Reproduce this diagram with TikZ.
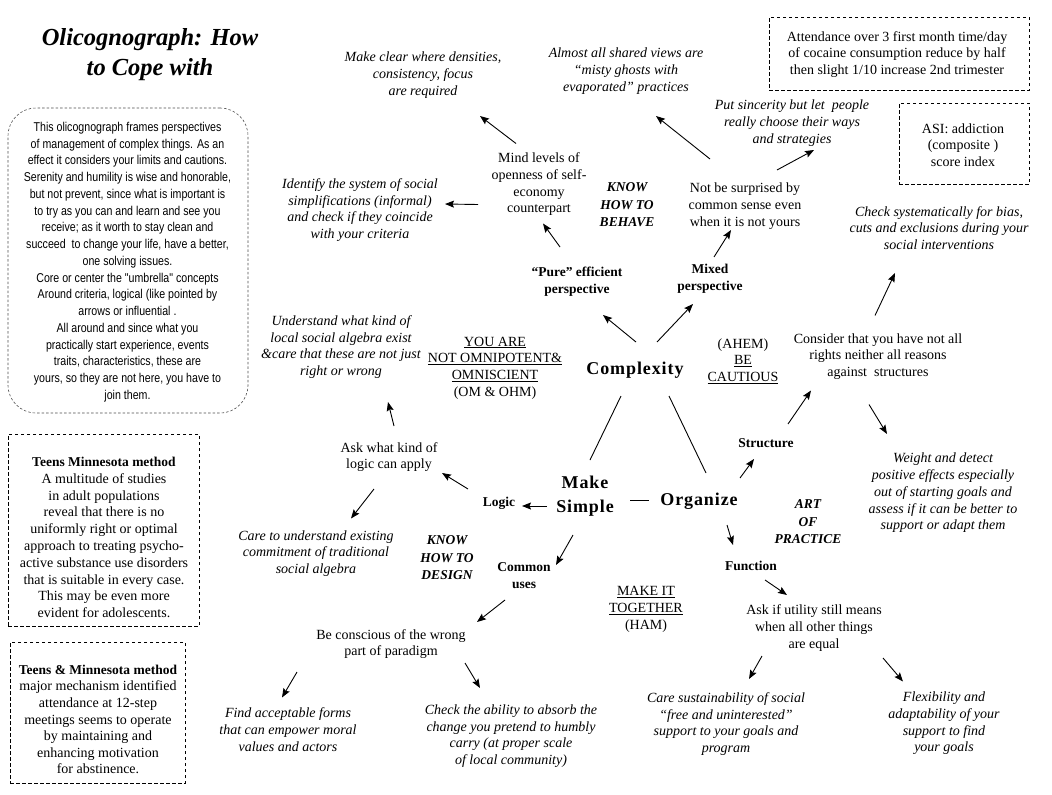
\documentclass[tikz,border=0pt]{standalone}
\usepackage{fontspec}
\setmainfont{Liberation Serif}
\newfontfamily\nsans[FakeStretch=0.83]{Liberation Sans}
\usetikzlibrary{arrows.meta,calc}
\tikzset{
 base/.style={align=center, inner sep=0pt, font=\fontsize{14}{16.7}\selectfont},
 itx/.style={base, font=\fontsize{14}{16.7}\selectfont\itshape},
 bl/.style={base, font=\fontsize{13.5}{17}\selectfont\bfseries},
 bix/.style={base, font=\fontsize{13.5}{17.5}\selectfont\bfseries\itshape},
 big/.style={base, font=\fontsize{18}{24}\selectfont\bfseries\addfontfeature{LetterSpace=5}},
 arr/.style={line width=0.9pt, -{Stealth[length=9pt,width=7pt,inset=1.5pt]}},
 ln/.style={line width=0.9pt},
 dbox/.style={draw, dash pattern=on 3.5pt off 2.5pt, line width=0.8pt, inner sep=0pt},
}
\begin{document}
\begin{tikzpicture}[x=1pt,y=-1pt]
\useasboundingbox (0,0) rectangle (1052,795);

% title
\node[base, font=\fontsize{24.5}{30}\selectfont\bfseries\itshape] (title) at (150,55) {Olicognograph: How\\to Cope with};

% left rounded box
\node[draw=black!70, dash pattern=on 2.5pt off 2pt, line width=0.6pt, rounded corners=28pt,
      minimum width=240pt, minimum height=305pt, inner sep=0pt] (lbox) at (128,260.5) {};
\node[base, font=\nsans\fontsize{12.8}{16.75}\selectfont] (ltext) at (127.5,262) {This olicognograph frames perspectives\\
of management of complex things. As an\\
effect it considers your limits and cautions.\\
Serenity and humility is wise and honorable,\\
but not prevent, since what is important is\\
to try as you can and learn and see you\\
receive; as it worth to stay clean and\\
succeed\ \ to change your life, have a better,\\
one solving issues.\\
Core or center the "umbrella" concepts\\
Around criteria, logical (like pointed by\\
arrows or influential .\\
All around and since what you\\
practically start experience, events\\
traits, characteristics, these are\\
yours, so they are not here, you have to\\
join them.};

% teens boxes
\node[dbox, minimum width=191pt, minimum height=192pt] (tbox1) at (103.5,530) {};
\node[base, font=\fontsize{14}{16.8}\selectfont] (teens1) at (104,537.5) {\textbf{\fontsize{13.5}{16.8}\selectfont Teens Minnesota method}\\
A multitude of studies\\
in adult populations\\
reveal that there is no\\
uniformly right or optimal\\
approach to treating psycho-\\
active substance use disorders\\
that is suitable in every case.\\
This may be even more\\
evident for adolescents.};
\node[dbox, minimum width=175pt, minimum height=141pt] (tbox2) at (97.5,712.5) {};
\node[base, font=\fontsize{14}{16.6}\selectfont] (teens2) at (98,719.5) {\textbf{\fontsize{13.5}{16.6}\selectfont Teens \& Minnesota method}\\
major mechanism identified\\
attendance at 12-step\\
meetings seems to operate\\
by maintaining and\\
enhancing motivation\\
for abstinence.};

% top right boxes
\node[dbox, minimum width=260pt, minimum height=73pt] (abox) at (899,53.5) {};
\node[base] (attend) at (897,54.5) {Attendance over 3 first month time/day\\of cocaine consumption reduce by half\\then slight 1/10 increase 2nd trimester};
\node[dbox, minimum width=130pt, minimum height=81pt] (asibox) at (964,143.5) {};
\node[base] (asi) at (963,145) {ASI: addiction\\(composite )\\score index};

% nodes
\node[itx] (mkclear) at (423,75) {Make clear where densities,\\consistency, focus\\are required};
\node[itx] (almost) at (626,71) {Almost all shared views are\\“misty ghosts with\\evaporated” practices};
\node[itx] (sincer) at (792,123) {Put sincerity but let\ \ people\\really choose their ways\\and strategies};
\node[base] (mind) at (539,184.5) {Mind levels of\\openness of self-\\economy\\counterpart};
\node[itx] (identify) at (360,210) {Identify the system of social\\simplifications (informal)\\and check if they coincide\\with your criteria};
\node[bix] (kbehave) at (627,205) {KNOW\\HOW TO\\BEHAVE};
\node[base] (notsurp) at (745,206) {Not be surprised by\\common sense even\\when it is not yours};
\node[itx] (checksys) at (939,228) {Check systematically for bias,\\cuts and exclusions during your\\social interventions};
\node[bl] (pure) at (577,282) {“Pure” efficient\\perspective};
\node[bl] (mixed) at (710,279) {Mixed\\perspective};
\node[itx] (underst) at (341,347) {Understand what kind of\\local social algebra exist\\\&care that these are not just\\right or wrong};
\node[base] (youare) at (495,368) {\underline{YOU ARE}\\\underline{NOT OMNIPOTENT\&}\\\underline{OMNISCIENT}\\(OM \& OHM)};
\node[big] (cplx) at (635,370) {Complexity};
\node[base] (ahem) at (743,361) {(AHEM)\\\underline{BE}\\\underline{CAUTIOUS}};
\node[base] (consider) at (878,356.5) {Consider that you have not all\\rights neither all reasons\\against\ \ structures};
\node[base] (askwhat) at (389,457) {Ask what kind of\\logic can apply};
\node[bl] (struct) at (766,443) {Structure};
\node[itx] (weight) at (943,493) {Weight and detect\\positive effects especially\\out of starting goals and\\assess if it can be better to\\support or adapt them};
\node[big] (msimple) at (585,496) {Make\\Simple};
\node[big] (organize) at (699,501) {Organize};
\node[bl] (logic) at (499,503) {Logic};
\node[bix] (art) at (808,522) {ART\\OF\\PRACTICE};
\node[itx] (careund) at (316,553.5) {Care to understand existing\\commitment of traditional\\social algebra};
\node[bix] (kdesign) at (447,558) {KNOW\\HOW TO\\DESIGN};
\node[bl] (common) at (524,576) {Common\\uses};
\node[bl] (function) at (751,566) {Function};
\node[base] (together) at (646,609.5) {\underline{MAKE IT}\\\underline{TOGETHER}\\(HAM)};
\node[base] (askutil) at (814,628) {Ask if utility still means\\when all other things\\are equal};
\node[base] (beconsc) at (391,644) {Be conscious of the wrong\\part of paradigm};
\node[itx] (findacc) at (288,729.5) {Find acceptable forms\\that can empower moral\\values and actors};
\node[itx] (checkab) at (511,736) {Check the ability to absorb the\\change you pretend to humbly\\carry (at proper scale\\of local community)};
\node[itx] (caresus) at (726,724) {Care sustainability of social\\“free and uninterested”\\support to your goals and\\program};
\node[itx] (flex) at (944,723.5) {Flexibility and\\adaptability of your\\support to find\\your goals};

% connectors
\draw[arr] ($(mind)+(-23,-41)$) -- ($(mkclear)+(57,41)$);
\draw[arr] ($(mind)+(-61,20)$) -- ($(identify)+(85,-6)$);
\draw[arr] ($(pure)+(-17,-35)$) -- ($(mind)+(4,39)$);
\draw[arr] ($(notsurp)+(-35,-47)$) -- ($(almost)+(30,45)$);
\draw[arr] ($(notsurp)+(32,-36)$) -- ($(sincer)+(22,27)$);
\draw[arr] ($(mixed)+(4,-22)$) -- ($(notsurp)+(-14,24)$);
\draw[arr] ($(cplx)+(1,-28)$) -- ($(pure)+(26,33)$);
\draw[arr] ($(cplx)+(22,-28)$) -- ($(mixed)+(-17,25)$);
\draw[ln] ($(cplx)+(-14,26)$) -- ($(msimple)+(5,-36)$);
\draw[ln] ($(cplx)+(34,26)$) -- ($(organize)+(7,-28)$);
\draw[ln] ($(msimple)+(45,4)$) -- ($(organize)+(-50,-1)$);
\draw[arr] ($(organize)+(41,-23)$) -- ($(struct)+(-12,16)$);
\draw[arr] ($(struct)+(22,-19)$) -- ($(consider)+(-67,34)$);
\draw[arr] ($(consider)+(-9,48)$) -- ($(weight)+(-56,-59)$);
\draw[arr] ($(consider)+(-3,-41)$) -- ($(checksys)+(-44,45)$);
\draw[arr] ($(organize)+(28,24)$) -- ($(function)+(-18,-21)$);
\draw[arr] ($(function)+(14,14)$) -- ($(askutil)+(-27,-33)$);
\draw[arr] ($(askutil)+(-52,28)$) -- ($(caresus)+(23,-45)$);
\draw[arr] ($(askutil)+(69,30)$) -- ($(flex)+(-41,-42)$);
\draw[arr] ($(msimple)+(-38,10)$) -- ($(logic)+(23,3)$);
\draw[arr] ($(logic)+(-31,-14)$) -- ($(askwhat)+(53,16)$);
\draw[arr] ($(askwhat)+(5,-31)$) -- ($(underst)+(47,55)$);
\draw[arr] ($(askwhat)+(-15,32)$) -- ($(careund)+(35,-35)$);
\draw[arr] ($(msimple)+(-12,39)$) -- ($(common)+(32,-11)$);
\draw[arr] ($(common)+(-19,24)$) -- ($(beconsc)+(86,-22)$);
\draw[arr] ($(beconsc)+(-94,28)$) -- ($(findacc)+(-6,-32)$);
\draw[arr] ($(beconsc)+(74,19)$) -- ($(checkab)+(-31,-48)$);
\end{tikzpicture}
\end{document}
